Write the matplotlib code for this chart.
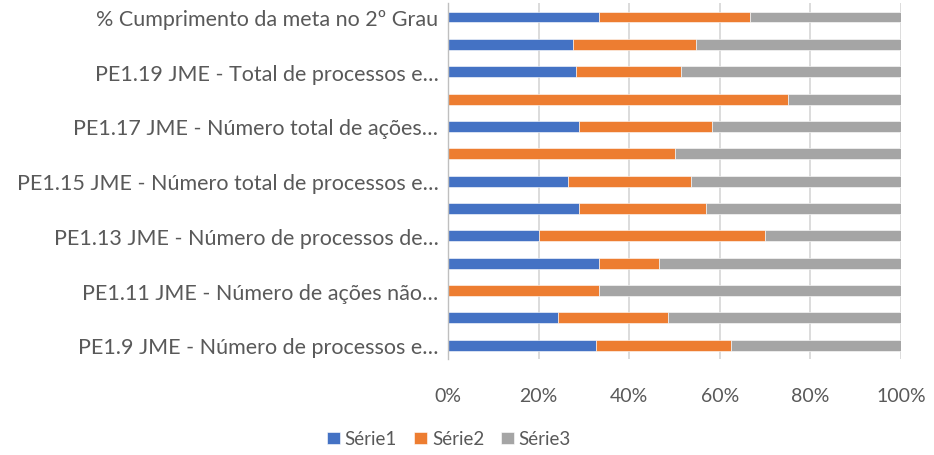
import matplotlib
matplotlib.use("Agg")
import matplotlib.pyplot as plt
import numpy as np

categories = [
    "PE1.9 JME - Número de processos e…",
    "PE1.10 JME",
    "PE1.11 JME - Número de ações não…",
    "PE1.12 JME",
    "PE1.13 JME - Número de processos de…",
    "PE1.14 JME",
    "PE1.15 JME - Número total de processos e…",
    "PE1.16 JME",
    "PE1.17 JME - Número total de ações…",
    "PE1.18 JME",
    "PE1.19 JME - Total de processos e…",
    "PE1.20 JME",
    "% Cumprimento da meta no 2º Grau",
]
serie1 = [32.7, 24.3, 0.0, 33.3, 20.0, 28.9, 26.4, 0.0, 28.9, 0.0, 28.3, 27.6, 33.3]
serie2 = [29.8, 24.3, 33.3, 13.3, 50.0, 28.0, 27.2, 50.0, 29.4, 75.0, 23.2, 27.2, 33.3]
serie3 = [37.5, 51.4, 66.7, 53.3, 30.0, 43.1, 46.4, 50.0, 41.7, 25.0, 48.5, 45.2, 33.4]
series_names = ["Série1", "Série2", "Série3"]
xtick_labels = ["0%", "20%", "40%", "60%", "80%", "100%"]

colors = ["#4472C4", "#ED7D31", "#A5A5A5"]
txt = "#595959"
plt.rcParams['font.family'] = ['Lato', 'DejaVu Sans']
FS = 15.5

W, H = 934, 456
fig = plt.figure(figsize=(W / 100, H / 100), dpi=100)
ax = fig.add_axes([448 / W, 1 - 360 / H, (901 - 448) / W, (360 - 4.3) / H])

data = np.array([serie1, serie2, serie3], dtype=float)
pct = data / data.sum(axis=0) * 100
y = np.arange(len(categories))
left = np.zeros(len(categories))
for i in range(3):
    ax.barh(y, pct[i], left=left, height=0.4, color=colors[i], label=series_names[i],
            edgecolor="white", linewidth=0.4, zorder=3)
    left += pct[i]

ax.set_xlim(0, 100)
ax.set_ylim(-0.5, len(categories) - 0.5)
ax.set_xticks(np.arange(0, 101, 20))
ax.set_xticklabels(xtick_labels, color=txt, fontsize=14)
ax.set_yticks(y[::2])
ax.set_yticklabels(categories[::2], color=txt, fontsize=FS)
ax.tick_params(axis="x", length=0, pad=20)
ax.tick_params(axis="y", length=0, pad=7)
ax.grid(axis="x", color="#D9D9D9", linewidth=1.3, zorder=0)
for s in ["top", "right", "bottom"]:
    ax.spines[s].set_visible(False)
ax.spines["left"].set_color("#BFBFBF")
ax.spines["left"].set_linewidth(1.0)
ax.spines["left"].set_zorder(4)

leg = fig.legend(loc="center", bbox_to_anchor=(449 / W, 1 - 440 / H), ncol=3, frameon=False,
                 fontsize=13.5, handlelength=0.67, handleheight=0.67, handletextpad=0.28,
                 columnspacing=0.9, labelcolor=txt)
fig.savefig("out.png", dpi=100)
